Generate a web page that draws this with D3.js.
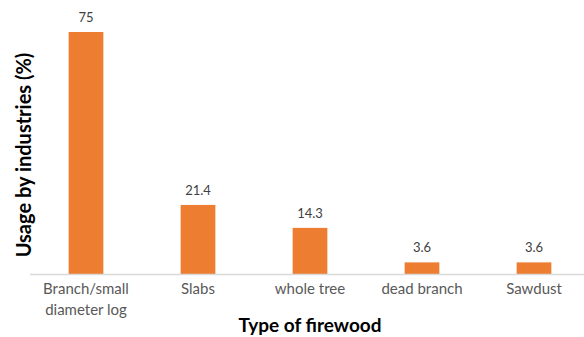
<!DOCTYPE html>
<html>
  <head>
    <meta charset="utf-8">
    <style>
    body { margin: 0; background: #fff; }
    text { font-family: Lato, "Open Sans", sans-serif; }
    .cat { fill: #595959; font-size: 15px; }
    .val { fill: #404040; font-size: 13px; }
    .title { fill: #000; font-size: 19px; font-weight: bold; }
    </style>
  </head>
  <body>
    <script src="https://d3js.org/d3.v7.min.js"></script>
    <script>

    var categories = ["Branch/small diameter log", "Slabs", "whole tree", "dead branch", "Sawdust"];
    var catLines = [["Branch/small", "diameter log"], ["Slabs"], ["whole tree"], ["dead branch"], ["Sawdust"]];
    var usage = [75, 21.4, 14.3, 3.6, 3.6];
    var valueLabels = ["75", "21.4", "14.3", "3.6", "3.6"];

    var width = 584, height = 337;
    var baseY = 274;

    var svg = d3.select("body").append("svg")
        .attr("width", width)
        .attr("height", height);

    var x = d3.scaleBand()
        .domain(categories)
        .range([30, 590])
        .paddingInner(0.69)
        .paddingOuter(0.345);

    var y = d3.scaleLinear()
        .domain([0, 75])
        .range([baseY, 32]);

    svg.append("g")
      .selectAll("rect")
      .data(usage)
      .enter().append("rect")
        .attr("x", function(d, i) { return x(categories[i]); })
        .attr("y", function(d) { return y(d); })
        .attr("width", x.bandwidth())
        .attr("height", function(d) { return baseY - y(d); })
        .attr("fill", "#ED7D31");

    // baseline
    svg.append("line")
        .attr("x1", 30).attr("x2", width)
        .attr("y1", baseY + 0.5).attr("y2", baseY + 0.5)
        .attr("stroke", "#d9d9d9")
        .attr("stroke-width", 1.5);

    svg.append("g")
      .selectAll("text")
      .data(usage)
      .enter().append("text")
        .attr("class", "val")
        .attr("text-anchor", "middle")
        .attr("x", function(d, i) { return x(categories[i]) + x.bandwidth() / 2; })
        .attr("y", function(d) { return y(d) - 10; })
        .text(function(d, i) { return valueLabels[i]; });

    var cat = svg.append("g")
      .selectAll("text")
      .data(categories)
      .enter().append("text")
        .attr("class", "cat")
        .attr("text-anchor", "middle")
        .attr("x", function(d) { return x(d) + x.bandwidth() / 2; })
        .attr("y", 294);
    cat.selectAll("tspan")
        .data(function(d, i) { return catLines[i]; })
        .enter().append("tspan")
        .attr("x", function() { var p = this.parentNode; return p.getAttribute("x"); })
        .attr("dy", function(d, i) { return i === 0 ? 0 : 21; })
        .text(function(d) { return d; });

    svg.append("text")
        .attr("class", "title")
        .attr("text-anchor", "middle")
        .attr("x", 310)
        .attr("y", 332)
        .text("Type of firewood");

    svg.append("text")
        .attr("class", "title")
        .style("font-size", "20px")
        .attr("text-anchor", "middle")
        .attr("transform", "translate(31,155) rotate(-90)")
        .text("Usage by industries (%)");

    </script>
  </body>
</html>
